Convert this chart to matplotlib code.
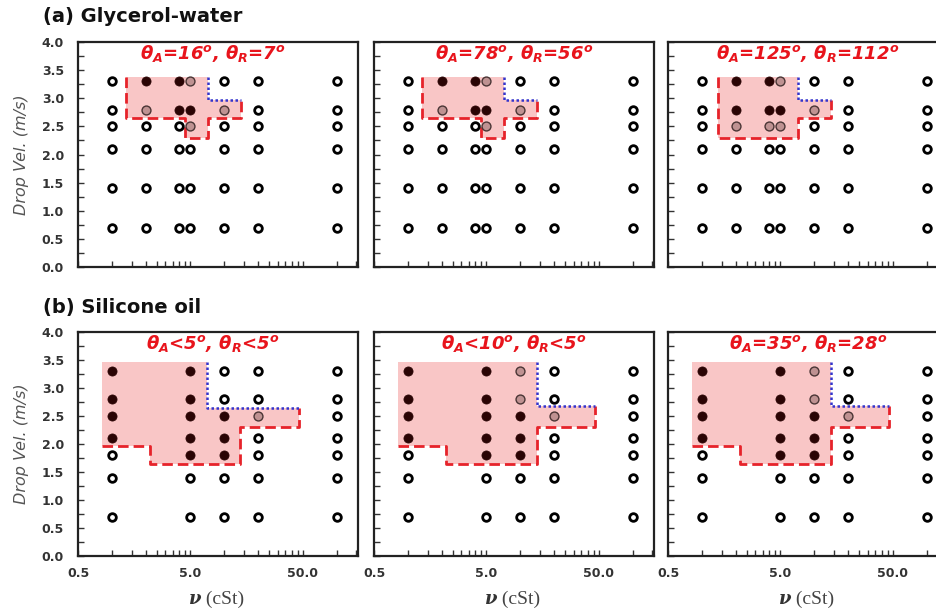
import numpy as np
import matplotlib
matplotlib.use("Agg")
from matplotlib import pyplot as plt
from matplotlib.ticker import FixedLocator, FixedFormatter, NullFormatter

plt.rcParams['font.family'] = ['DejaVu Sans']
plt.rcParams['mathtext.fontset'] = 'custom'
plt.rcParams['mathtext.rm'] = 'DejaVu Sans:italic:bold'
plt.rcParams['mathtext.it'] = 'DejaVu Sans:italic:bold'
plt.rcParams['mathtext.bf'] = 'DejaVu Sans:italic:bold'

# glycerol-water grid (viscosity in cSt, drop velocity in m/s)
gw_visc = [1, 2, 4, 5, 10, 20, 100]
gw_vel = [0.7, 1.4, 2.1, 2.5, 2.8, 3.3]
# 0 = no splash, 1 = splash, 2 = partial ; rows follow gw_vel
gw_state_a = [[0, 0, 0, 0, 0, 0, 0],
              [0, 0, 0, 0, 0, 0, 0],
              [0, 0, 0, 0, 0, 0, 0],
              [0, 0, 0, 2, 0, 0, 0],
              [0, 2, 1, 1, 2, 0, 0],
              [0, 1, 1, 2, 0, 0, 0]]
gw_state_b = [[0, 0, 0, 0, 0, 0, 0],
              [0, 0, 0, 0, 0, 0, 0],
              [0, 0, 0, 0, 0, 0, 0],
              [0, 0, 0, 2, 0, 0, 0],
              [0, 2, 1, 1, 2, 0, 0],
              [0, 1, 1, 2, 0, 0, 0]]
gw_state_c = [[0, 0, 0, 0, 0, 0, 0],
              [0, 0, 0, 0, 0, 0, 0],
              [0, 0, 0, 0, 0, 0, 0],
              [0, 2, 2, 2, 0, 0, 0],
              [0, 1, 1, 1, 2, 0, 0],
              [0, 1, 1, 2, 0, 0, 0]]

# silicone oil grid
so_visc = [1, 5, 10, 20, 100]
so_vel = [0.7, 1.4, 1.8, 2.1, 2.5, 2.8, 3.3]
so_state_a = [[0, 0, 0, 0, 0],
              [0, 0, 0, 0, 0],
              [0, 1, 1, 0, 0],
              [1, 1, 1, 0, 0],
              [1, 1, 1, 2, 0],
              [1, 1, 0, 0, 0],
              [1, 1, 0, 0, 0]]
so_state_b = [[0, 0, 0, 0, 0],
              [0, 0, 0, 0, 0],
              [0, 1, 1, 0, 0],
              [1, 1, 1, 0, 0],
              [1, 1, 1, 2, 0],
              [1, 1, 2, 0, 0],
              [1, 1, 2, 0, 0]]
so_state_c = [[0, 0, 0, 0, 0],
              [0, 0, 0, 0, 0],
              [0, 1, 1, 0, 0],
              [1, 1, 1, 0, 0],
              [1, 1, 1, 2, 0],
              [1, 1, 2, 0, 0],
              [1, 1, 2, 0, 0]]

# regime boundaries: splash limit (red dashed), partial limit (blue dotted)
gw_red_ab = [(1.35, 3.38), (1.35, 2.65), (4.5, 2.65), (4.5, 2.3), (7.1, 2.3),
             (7.1, 2.65), (14, 2.65), (14, 2.97)]
gw_red_c = [(1.4, 3.38), (1.4, 2.3), (7.2, 2.3), (7.2, 2.65), (14, 2.65), (14, 2.97)]
gw_blue = [(7.1, 3.38), (7.1, 2.97), (14, 2.97)]
so_red_a = [(0.82, 1.97), (2.2, 1.97), (2.2, 1.65), (13.8, 1.65), (13.8, 2.3),
            (46, 2.3), (46, 2.65)]
so_blue_a = [(7.0, 3.46), (7.0, 2.65), (46, 2.65)]
so_red_bc = [(0.82, 1.97), (2.2, 1.97), (2.2, 1.65), (14, 1.65), (14, 2.3),
             (46, 2.3), (46, 2.68)]
so_blue_bc = [(14, 3.46), (14, 2.68), (46, 2.68)]
so_corner = (0.82, 3.46)

gw_titles = [r"$\theta_A$=16$^o$, $\theta_R$=7$^o$",
             r"$\theta_A$=78$^o$, $\theta_R$=56$^o$",
             r"$\theta_A$=125$^o$, $\theta_R$=112$^o$"]
so_titles = [r"$\theta_A$<5$^o$, $\theta_R$<5$^o$",
             r"$\theta_A$<10$^o$, $\theta_R$<5$^o$",
             r"$\theta_A$=35$^o$, $\theta_R$=28$^o$"]

W, H = 936, 610
fig = plt.figure(figsize=(W / 100, H / 100), dpi=100)


def px_axes(left, top, right, bottom):
    return fig.add_axes([left / W, 1 - bottom / H, (right - left) / W, (bottom - top) / H])


def draw_panel(ax, visc, vel, state, red, blue, corner, title, left_col, bottom_row):
    shade = [corner] + red + blue[::-1]
    sx, sy = zip(*shade)
    ax.fill(sx, sy, color='#f9c6c6', lw=0, zorder=1)
    rx, ry = zip(*red)
    ax.plot(rx, ry, color='#e6232a', lw=2.0, ls=(0, (3.8, 1.8)), zorder=2)
    bx, by = zip(*blue)
    ax.plot(bx, by, color='#3333cc', lw=1.8, ls=(0, (1, 1)), zorder=2)

    st = np.array(state)
    X, Y = np.meshgrid(visc, vel)
    m = st == 0
    ax.plot(X[m], Y[m], 'o', ms=5.5, mfc='white', mec='black', mew=2.0, zorder=3)
    m = st == 1
    ax.plot(X[m], Y[m], 'o', ms=6.6, mfc='#2a0404', mec='#2a0404', mew=0.5, zorder=3)
    m = st == 2
    ax.plot(X[m], Y[m], 'o', ms=6.4, mfc='#bf9292', mec='#4a3535', mew=1, zorder=3)

    ax.set_xscale('log')
    ax.set_xlim(0.5, 155)
    ax.set_ylim(0, 4)
    ax.xaxis.set_major_locator(FixedLocator([0.5, 5, 50]))
    ax.xaxis.set_minor_locator(FixedLocator(
        [0.5 * k * 10 ** n for n in range(3) for k in range(2, 10)]))
    ax.xaxis.set_minor_formatter(NullFormatter())
    ax.set_yticks(np.arange(0, 4.01, 0.5))
    ax.set_yticks(np.arange(0.25, 4, 0.5), minor=True)
    ax.tick_params(which='both', direction='in', top=False, right=False,
                   length=4.5, width=1, colors='#333333', labelsize=9)
    ax.tick_params(axis='y', pad=10)
    ax.tick_params(axis='x', pad=8)
    if bottom_row:
        ax.xaxis.set_major_formatter(FixedFormatter(['0.5', '5.0', '50.0']))
        for lab in ax.get_xticklabels():
            lab.set_fontweight('bold')
    else:
        ax.set_xticklabels([])
    if left_col:
        ax.set_yticklabels(['%.1f' % v for v in np.arange(0, 4.01, 0.5)],
                           fontweight='bold')
        ax.set_ylabel('Drop Vel. (m/s)', fontstyle='italic', fontsize=11.5,
                      color='#555555', labelpad=9)
    else:
        ax.set_yticklabels([])
    for s in ax.spines.values():
        s.set_linewidth(1.6)
        s.set_color('#222222')

    ax.text(0.48 if left_col else 0.5, 3.8, title, transform=ax.get_yaxis_transform(),
            ha='center', va='center', color='#e8141c', fontsize=13,
            fontweight='bold', fontstyle='italic', zorder=4)

    if bottom_row:
        ax.text(0.44, -0.19, '\u03bd', transform=ax.transAxes, ha='right', va='center',
                fontsize=13, fontweight='bold', fontstyle='italic',
                family='DejaVu Serif', color='#333333')
        ax.text(0.44, -0.192, ' (cSt)', transform=ax.transAxes, ha='left', va='center',
                fontsize=14, family='Liberation Serif', color='#444444')


lefts = [78, 374, 668]
gw_states = [gw_state_a, gw_state_b, gw_state_c]
gw_reds = [gw_red_ab, gw_red_ab, gw_red_c]
so_states = [so_state_a, so_state_b, so_state_c]
so_reds = [so_red_a, so_red_bc, so_red_bc]
so_blues = [so_blue_a, so_blue_bc, so_blue_bc]

for i, x0 in enumerate(lefts):
    ax = px_axes(x0, 42, x0 + 280, 267)
    draw_panel(ax, gw_visc, gw_vel, gw_states[i], gw_reds[i], gw_blue,
               gw_reds[i][0], gw_titles[i], i == 0, False)
    ax = px_axes(x0, 332, x0 + 280, 556)
    draw_panel(ax, so_visc, so_vel, so_states[i], so_reds[i], so_blues[i],
               so_corner, so_titles[i], i == 0, True)

fig.text(43 / W, 1 - 16 / H, '(a) Glycerol-water', fontsize=14, fontweight='bold',
         ha='left', va='center', color='#111111')
fig.text(43 / W, 1 - 307 / H, '(b) Silicone oil', fontsize=14, fontweight='bold',
         ha='left', va='center', color='#111111')

fig.savefig('out.png', dpi=100)
